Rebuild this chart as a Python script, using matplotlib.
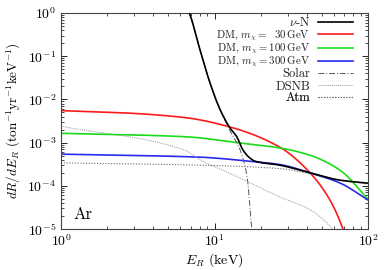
import numpy as np
import matplotlib
matplotlib.use("Agg")
import matplotlib.pyplot as plt

plt.rcParams['font.family'] = 'serif'
plt.rcParams['font.serif'] = ['cmr10', 'DejaVu Serif']
plt.rcParams['mathtext.fontset'] = 'cm'
plt.rcParams['axes.formatter.use_mathtext'] = True
plt.rcParams['axes.unicode_minus'] = False

# Data (E in keV, rate in ton^-1 yr^-1 keV^-1)
nuN_E = [6.6, 6.85, 8.05, 9.35, 10.9, 12.6, 14.0, 15.3, 17.0, 18.4, 26.7, 41.9, 65.7, 100]
nuN_R = [1.3, 1.0, 0.139, 0.024, 5.7e-3, 2.2e-3, 1.35e-3, 6.8e-4, 4.4e-4, 3.7e-4, 3.0e-4, 2.0e-4, 1.35e-4, 1.15e-4]

dm30_E = [1, 2.5, 6.4, 12.6, 26.7, 41.9, 56.5, 68.7, 72]
dm30_R = [5.5e-3, 4.9e-3, 3.8e-3, 2.3e-3, 7.8e-4, 2.0e-4, 4.7e-5, 1.0e-5, 6e-6]

dm100_E = [1, 6.4, 14.6, 26.7, 41.9, 65.7, 100]
dm100_R = [1.64e-3, 1.37e-3, 9.8e-4, 7.5e-4, 5.1e-4, 2.3e-4, 4.9e-5]

dm300_E = [1, 8.05, 17.0, 26.7, 41.9, 65.7, 100]
dm300_R = [5.4e-4, 4.6e-4, 3.7e-4, 3.1e-4, 2.0e-4, 1.16e-4, 4.7e-5]

solar_E = [6.6, 6.85, 8.05, 9.35, 10.9, 12.6, 14.7, 16.3, 17.5, 17.8]
solar_R = [1.3, 1.0, 0.139, 0.024, 5.7e-3, 1.9e-3, 6.7e-4, 1.6e-4, 1.0e-5, 6e-6]

dsnb_E = [1, 6.4, 8.05, 13.2, 26.7, 41.9, 59, 62]
dsnb_R = [2.4e-3, 6.7e-4, 4.0e-4, 1.8e-4, 5.5e-5, 2.8e-5, 1.0e-5, 8e-6]

atm_E = [1, 8.05, 26.7, 41.9, 65.7, 100]
atm_R = [3.4e-4, 3.0e-4, 2.5e-4, 1.9e-4, 1.35e-4, 1.1e-4]

labels = [r'$\nu$-N',
          r'DM, $m_\chi =\ \ 30\,$GeV',
          r'DM, $m_\chi = 100\,$GeV',
          r'DM, $m_\chi = 300\,$GeV',
          'Solar', 'DSNB', 'Atm']

def smooth(E, R, n=200):
    lx = np.log10(E); ly = np.log10(R)
    xs = np.linspace(lx[0], lx[-1], n)
    # monotone cubic (PCHIP-like) interpolation in log-log space
    h = np.diff(lx); d = np.diff(ly) / h
    m = np.zeros_like(lx)
    m[0] = d[0]; m[-1] = d[-1]
    for i in range(1, len(lx) - 1):
        if d[i-1] * d[i] <= 0:
            m[i] = 0
        else:
            w1 = 2*h[i] + h[i-1]; w2 = h[i] + 2*h[i-1]
            m[i] = (w1 + w2) / (w1/d[i-1] + w2/d[i])
    ys = np.empty_like(xs)
    for j, x in enumerate(xs):
        k = min(np.searchsorted(lx, x, side='right') - 1, len(lx) - 2)
        k = max(k, 0)
        t = (x - lx[k]) / h[k]
        h00 = 2*t**3 - 3*t**2 + 1; h10 = t**3 - 2*t**2 + t
        h01 = -2*t**3 + 3*t**2; h11 = t**3 - t**2
        ys[j] = h00*ly[k] + h10*h[k]*m[k] + h01*ly[k+1] + h11*h[k]*m[k+1]
    return 10**xs, 10**ys

fig = plt.figure(figsize=(3.9, 2.7), dpi=100)
ax = fig.add_axes([61/390, 1 - 229/270, (368-61)/390, (229-13)/270])

lines = []
lines += ax.plot(*smooth(nuN_E, nuN_R), color='black', lw=1.2, zorder=5)
lines += ax.plot(*smooth(dm30_E, dm30_R), color='#ff1a1a', lw=1.2)
lines += ax.plot(*smooth(dm100_E, dm100_R), color='#1adb1a', lw=1.2)
lines += ax.plot(*smooth(dm300_E, dm300_R), color='#2a2aee', lw=1.2)
lines += ax.plot(*smooth(solar_E, solar_R), color='#555555', lw=0.7, ls=(0, (6, 2, 1, 2)))
lines += ax.plot(*smooth(dsnb_E, dsnb_R), color='#999999', lw=0.7, ls=(0, (1, 1)))
lines += ax.plot(*smooth(atm_E, atm_R), color='#666666', lw=0.8, ls=(0, (1, 1.5)))

ax.set_xscale('log'); ax.set_yscale('log')
ax.set_xlim(1, 100); ax.set_ylim(1e-5, 1)
ax.tick_params(which='both', direction='in', top=True, right=True, labelsize=10)
ax.tick_params(which='major', length=4, width=0.6)
ax.tick_params(which='minor', length=2, width=0.5)
ax.tick_params(axis='x', pad=3)
for s in ax.spines.values():
    s.set_linewidth(0.8); s.set_color('#444444')

ax.set_xlabel(r'$E_R$ (keV)', fontsize=10, labelpad=2)
ax.set_ylabel(r'$dR/dE_R$ (ton$^{-1}$yr$^{-1}$keV$^{-1}$)', fontsize=9.5, labelpad=3)
ax.text(0.04, 0.045, 'Ar', transform=ax.transAxes, fontsize=12)

# legend: one entry per row, evenly spaced like the reference
row_y = [0.956, 0.894, 0.833, 0.773, 0.718, 0.660, 0.606]
for i, (ln, lab) in enumerate(zip(lines, labels)):
    fs = 7.8 if lab.startswith('DM') else 9
    lg = ax.legend([ln], [lab], loc='center right', bbox_to_anchor=(0.951, row_y[i]),
                   markerfirst=False, frameon=False, fontsize=fs,
                   handlelength=35/(fs*100/72), handletextpad=8/(fs*100/72),
                   borderaxespad=0, borderpad=0)
    for t in lg.get_texts():
        t.set_color('#222222')
    ax.add_artist(lg)

fig.savefig('out.png', dpi=100)
